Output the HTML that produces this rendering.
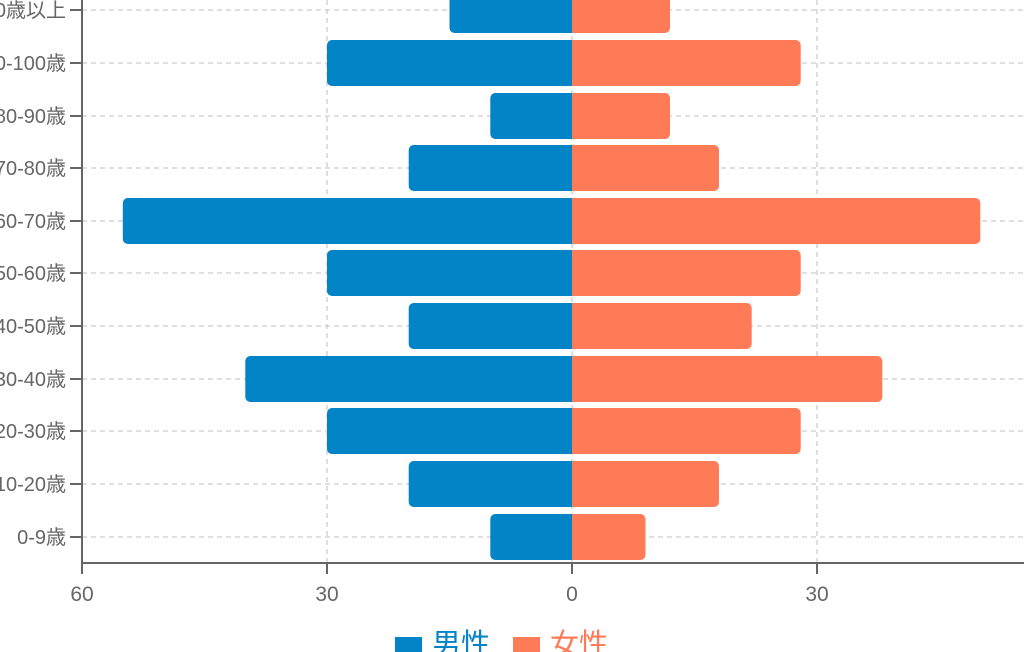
<!DOCTYPE html><html><head><meta charset="utf-8"><style>body{margin:0;background:#fff}svg{display:block}text{font-family:"Liberation Sans","Noto Sans CJK JP",sans-serif}</style></head><body>
<svg width="1024" height="652" xmlns="http://www.w3.org/2000/svg">
<defs><clipPath id="cl"><rect x="0" y="-50" width="572" height="700"/></clipPath><clipPath id="cr"><rect x="572" y="-50" width="500" height="700"/></clipPath></defs>
<g stroke="#ccc" stroke-dasharray="5,4" stroke-width="1.3">
<line x1="327" y1="0" x2="327" y2="562"/><line x1="817" y1="0" x2="817" y2="562"/><line x1="572" y1="0" x2="572" y2="562"/>
<line x1="82" y1="10" x2="1024" y2="10"/><line x1="82" y1="63" x2="1024" y2="63"/><line x1="82" y1="116" x2="1024" y2="116"/><line x1="82" y1="168" x2="1024" y2="168"/><line x1="82" y1="221" x2="1024" y2="221"/><line x1="82" y1="273" x2="1024" y2="273"/><line x1="82" y1="326" x2="1024" y2="326"/><line x1="82" y1="379" x2="1024" y2="379"/><line x1="82" y1="431" x2="1024" y2="431"/><line x1="82" y1="484" x2="1024" y2="484"/><line x1="82" y1="537" x2="1024" y2="537"/>
</g>
<g fill="#0284c7" clip-path="url(#cl)">
<rect x="449.5" y="-13" width="133" height="46" rx="5"/>
<rect x="327" y="40" width="255" height="46" rx="5"/>
<rect x="490.3" y="93" width="92" height="46" rx="5"/>
<rect x="408.7" y="145" width="174" height="46" rx="5"/>
<rect x="122.8" y="198" width="460" height="46" rx="5"/>
<rect x="327" y="250" width="255" height="46" rx="5"/>
<rect x="408.7" y="303" width="174" height="46" rx="5"/>
<rect x="245.3" y="356" width="337" height="46" rx="5"/>
<rect x="327" y="408" width="255" height="46" rx="5"/>
<rect x="408.7" y="461" width="174" height="46" rx="5"/>
<rect x="490.3" y="514" width="92" height="46" rx="5"/>
</g>
<g fill="#ff7b57" clip-path="url(#cr)">
<rect x="562" y="-13" width="108" height="46" rx="5"/>
<rect x="562" y="40" width="238.7" height="46" rx="5"/>
<rect x="562" y="93" width="108" height="46" rx="5"/>
<rect x="562" y="145" width="157" height="46" rx="5"/>
<rect x="562" y="198" width="418.3" height="46" rx="5"/>
<rect x="562" y="250" width="238.7" height="46" rx="5"/>
<rect x="562" y="303" width="189.7" height="46" rx="5"/>
<rect x="562" y="356" width="320.3" height="46" rx="5"/>
<rect x="562" y="408" width="238.7" height="46" rx="5"/>
<rect x="562" y="461" width="157" height="46" rx="5"/>
<rect x="562" y="514" width="83.5" height="46" rx="5"/>
</g>
<g stroke="#666" stroke-width="2">
<line x1="82" y1="0" x2="82" y2="574"/><line x1="82" y1="563" x2="1024" y2="563"/>
<line x1="327" y1="563" x2="327" y2="574"/><line x1="572" y1="563" x2="572" y2="574"/><line x1="817" y1="563" x2="817" y2="574"/>
<line x1="70" y1="10" x2="82" y2="10"/><line x1="70" y1="63" x2="82" y2="63"/><line x1="70" y1="116" x2="82" y2="116"/><line x1="70" y1="168" x2="82" y2="168"/><line x1="70" y1="221" x2="82" y2="221"/><line x1="70" y1="273" x2="82" y2="273"/><line x1="70" y1="326" x2="82" y2="326"/><line x1="70" y1="379" x2="82" y2="379"/><line x1="70" y1="431" x2="82" y2="431"/><line x1="70" y1="484" x2="82" y2="484"/><line x1="70" y1="537" x2="82" y2="537"/>
</g>
<g font-size="21" fill="#666" text-anchor="middle"><text x="82" y="601">60</text><text x="327" y="601">30</text><text x="572" y="601">0</text><text x="817" y="601">30</text></g>
<g font-size="20" fill="#666" text-anchor="end">
<text x="66" y="17">100歳以上</text><text x="66" y="70">90-100歳</text><text x="66" y="123">80-90歳</text><text x="66" y="175">70-80歳</text><text x="66" y="228">60-70歳</text><text x="66" y="280">50-60歳</text><text x="66" y="333">40-50歳</text><text x="66" y="386">30-40歳</text><text x="66" y="438">20-30歳</text><text x="66" y="491">10-20歳</text><text x="66" y="544">0-9歳</text>
</g>
<rect x="395" y="637" width="27" height="20" fill="#0284c7"/><text x="432" y="654" font-size="29" fill="#0284c7">男性</text>
<rect x="513" y="637" width="27" height="20" fill="#ff7b57"/><text x="550" y="654" font-size="29" fill="#ff7b57">女性</text>
</svg></body></html>
